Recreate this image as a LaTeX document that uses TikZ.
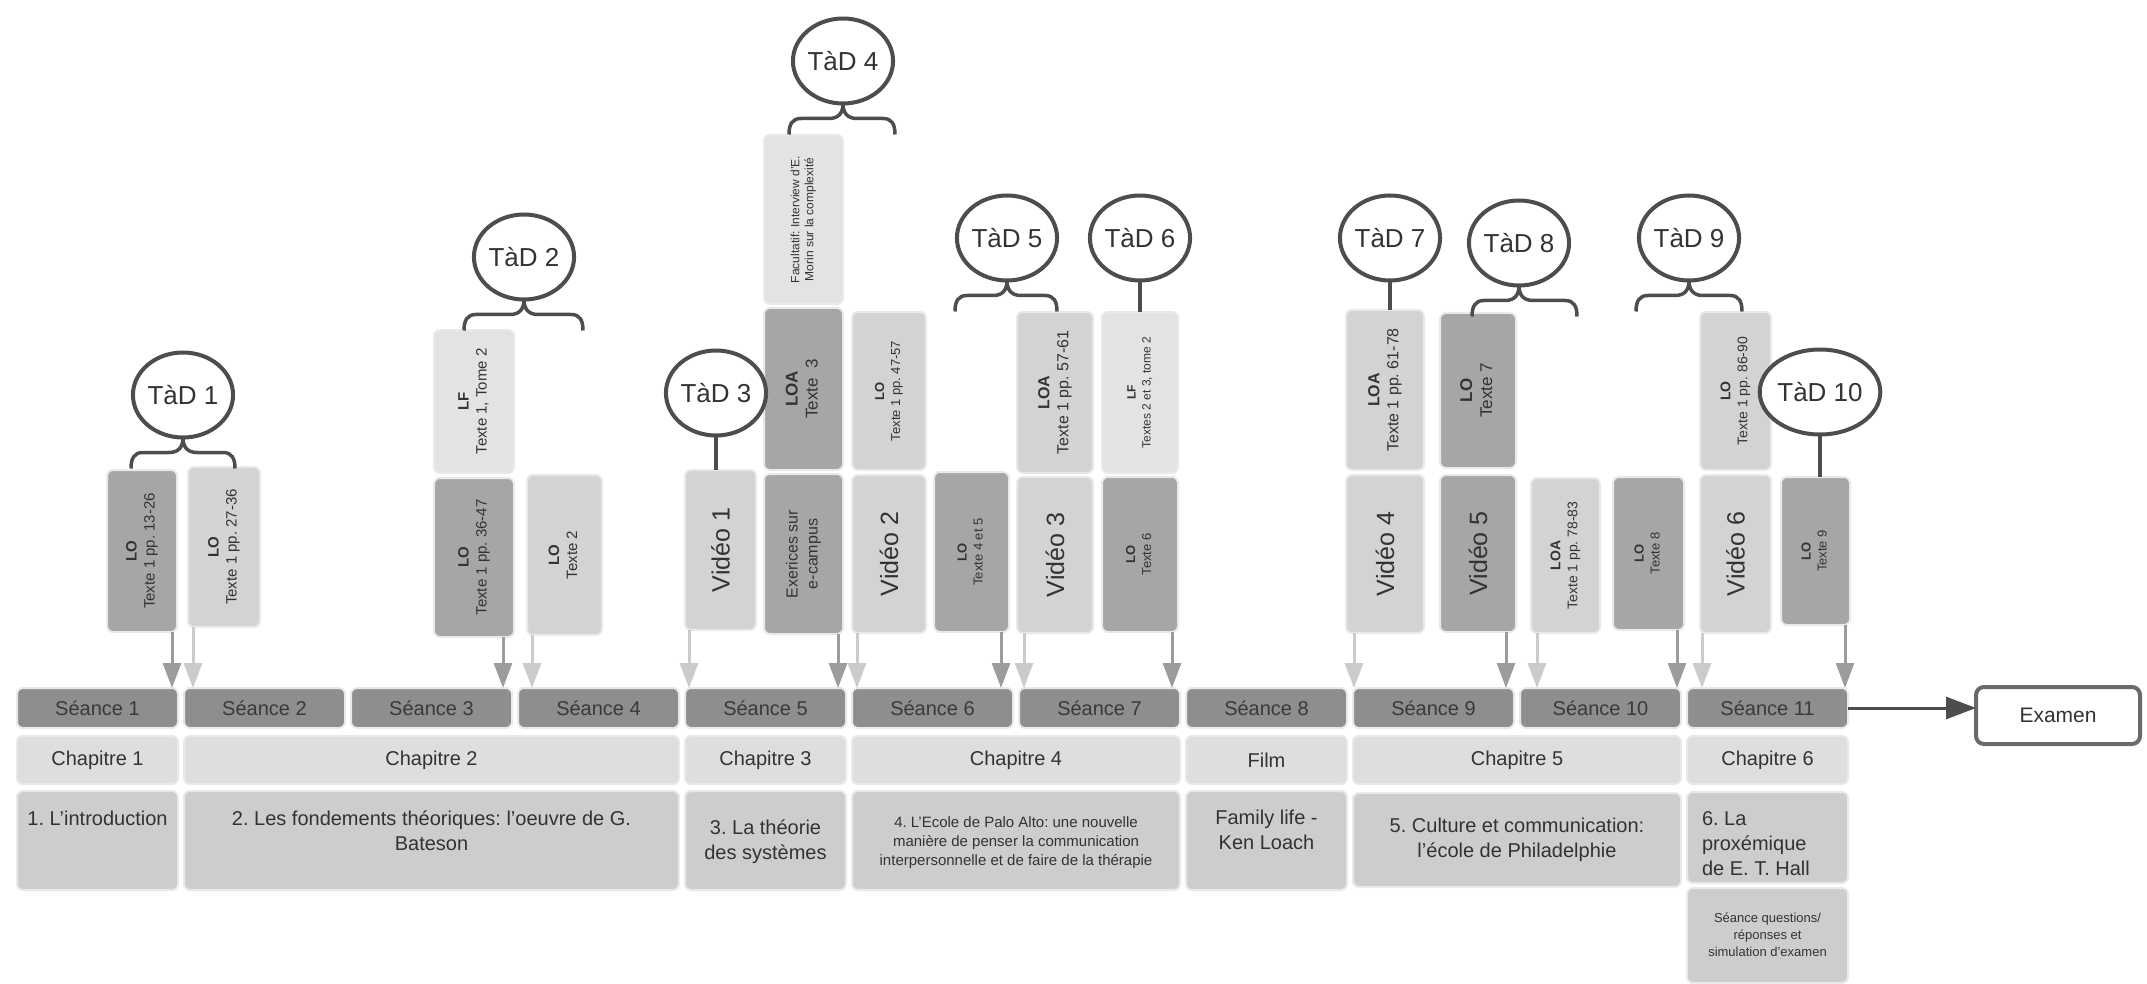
\documentclass[tikz,border=0pt]{standalone}
\usepackage{fontspec}
\setmainfont{Liberation Sans}
\usepackage{graphicx}
\usetikzlibrary{arrows.meta,shapes.geometric}
\frenchspacing

\definecolor{seac}{HTML}{8E8E8E}
\definecolor{seat}{HTML}{3A3A3A}
\definecolor{dkc}{HTML}{A6A6A6}
\definecolor{ltc}{HTML}{D3D3D3}
\definecolor{xlc}{HTML}{E3E3E3}
\definecolor{chpc}{HTML}{DEDEDE}
\definecolor{dscc}{HTML}{CDCDCD}
\definecolor{haloc}{HTML}{E9E9E9}
\definecolor{txtc}{HTML}{333333}
\definecolor{lnc}{HTML}{4D4D4D}
\definecolor{adc}{HTML}{9C9C9C}
\definecolor{alc}{HTML}{CBCBCB}
\definecolor{exc}{HTML}{6A6A6A}

\newcommand\bx[7]{\node[#6,minimum width={#4-#2},minimum height={#5-#3}] (#1) at ({(#2+#4)/2},{(#3+#5)/2}) {#7};}
\newcommand\vt[4]{\rotatebox{90}{\fontsize{#1}{#2}\selectfont\begin{tabular}{@{}c@{}}\textbf{#3}\\#4\end{tabular}}}
\newcommand\vtwo[4]{\rotatebox{90}{\fontsize{#1}{#2}\selectfont\begin{tabular}{@{}c@{}}#3\\#4\end{tabular}}}
\newcommand\vone[2]{\rotatebox{90}{\fontsize{#1}{#1}\selectfont #2}}
\newcommand\dtx[7]{\parbox[c][#1pt][t]{#2pt}{\fontsize{#4}{#5}\selectfont#6\vspace*{#3pt}\strut#7}}
\newcommand\tbr[5]{%
\draw[brc] (#1.south) .. controls (#2,{#3+9}) and ({#2-4},{#3+15}) .. ({#2-14},{#3+15}) -- ({#4+12},{#3+15}) .. controls ({#4+3},{#3+15}) and (#4,{#3+21}) .. (#4,{#3+31});
\draw[brc] (#1.south) .. controls (#2,{#3+9}) and ({#2+4},{#3+15}) .. ({#2+14},{#3+15}) -- ({#5-12},{#3+15}) .. controls ({#5-3},{#3+15}) and (#5,{#3+21}) .. (#5,{#3+31});}

\tikzset{
 bxs/.style={rounded corners=6pt, draw=haloc, line width=2pt, inner sep=0pt, outer sep=0pt, text=txtc},
 seab/.style={bxs, fill=seac, font=\fontsize{20}{24}\selectfont, text=seat},
 chpb/.style={bxs, fill=chpc, font=\fontsize{20}{24}\selectfont},
 dscb/.style={bxs, fill=dscc},
 dkb/.style={bxs, fill=dkc},
 ltb/.style={bxs, fill=ltc},
 xlb/.style={bxs, fill=xlc},
 tad/.style={ellipse, draw=lnc, line width=4pt, fill=white, minimum width=100pt, minimum height=85pt, inner sep=0pt, outer sep=0pt, font=\fontsize{26}{30}\selectfont, text=txtc},
 brc/.style={draw=lnc, line width=3.5pt},
 ad/.style={draw=adc, line width=3pt, -{Triangle[length=25pt,width=18pt]}},
 al/.style={draw=alc, line width=3pt, -{Triangle[length=25pt,width=18pt]}},
 exs/.style={rounded corners=8pt, draw=exc, line width=4pt, fill=white, inner sep=0pt, outer sep=0pt, font=\fontsize{21}{24}\selectfont, text=txtc},
 exa/.style={draw=lnc, line width=3pt, -{Triangle[length=30pt,width=22pt]}},
}

\begin{document}
\begin{tikzpicture}[x=1pt,y=-1pt]
\useasboundingbox[fill=white] (0,0) rectangle (2147,984);

% Seances
\bx{s1}{17}{688}{178}{728}{seab}{Séance 1}
\bx{s2}{184}{688}{345}{728}{seab}{Séance 2}
\bx{s3}{351}{688}{512}{728}{seab}{Séance 3}
\bx{s4}{518}{688}{679}{728}{seab}{Séance 4}
\bx{s5}{685}{688}{846}{728}{seab}{Séance 5}
\bx{s6}{852}{688}{1013}{728}{seab}{Séance 6}
\bx{s7}{1019}{688}{1180}{728}{seab}{Séance 7}
\bx{s8}{1186}{688}{1347}{728}{seab}{Séance 8}
\bx{s9}{1353}{688}{1514}{728}{seab}{Séance 9}
\bx{s10}{1520}{688}{1681}{728}{seab}{Séance 10}
\bx{s11}{1687}{688}{1848}{728}{seab}{Séance 11}

% Chapitres
\bx{c1}{17}{736}{178}{784}{chpb}{Chapitre 1}
\bx{c2}{184}{736}{679}{784}{chpb}{Chapitre 2}
\bx{c3}{685}{736}{846}{784}{chpb}{Chapitre 3}
\bx{c4}{852}{736}{1180}{784}{chpb}{Chapitre 4}
\bx{c5}{1186}{736}{1347}{784}{chpb}{Film}
\bx{c6}{1353}{736}{1681}{784}{chpb}{Chapitre 5}
\bx{c7}{1687}{736}{1848}{784}{chpb}{Chapitre 6}

% Descriptions
\bx{d1}{17}{791}{178}{890}{dscb}{\dtx{99}{161}{16.5}{20}{25}{\centering}{1. L'introduction}}
\bx{d2}{184}{791}{679}{890}{dscb}{\dtx{99}{495}{16.5}{20}{25}{\centering}{2. Les fondements théoriques: l'oeuvre de G.\\Bateson}}
\bx{d3}{685}{791}{846}{890}{dscb}{\dtx{99}{161}{25.5}{20}{25}{\centering}{3. La théorie\\des systèmes}}
\bx{d4}{852}{791}{1180}{890}{dscb}{\dtx{99}{328}{22.7}{15}{19}{\centering}{4. L'Ecole de Palo Alto: une nouvelle\\manière de penser la communication\\interpersonnelle et de faire de la thérapie}}
\bx{d5}{1186}{791}{1347}{890}{dscb}{\dtx{99}{161}{15.5}{20}{25}{\centering}{Family life -\\Ken Loach}}
\bx{d6}{1353}{793}{1681}{887}{dscb}{\dtx{94}{328}{21.5}{20}{25}{\centering}{5. Culture et communication:\\l'école de Philadelphie}}
\bx{d7}{1687}{792}{1848}{883}{dscb}{\dtx{91}{161}{15.5}{20}{25}{\raggedright\leftskip=15pt\relax}{6. La\\proxémique\\de E. T. Hall}}
\bx{d8}{1687}{888}{1848}{983}{dscb}{\dtx{95}{161}{23}{13}{17}{\centering}{Séance questions/\\réponses et\\simulation d'examen}}

% Examen
\bx{ex}{1976}{687}{2140}{744}{exs}{Examen}
\draw[exa] (s11.east) -- (s11.east -| ex.west);

% Resource boxes
\bx{r1}{107}{470}{177}{632}{dkb}{\vt{15}{18}{LO}{Texte 1 pp. 13-26}}
\bx{r2}{188}{467}{260}{627}{ltb}{\vt{15}{18}{LO}{Texte 1 pp. 27-36}}
\bx{r3}{434}{330}{514}{473}{xlb}{\vt{15}{18}{LF}{Texte 1, Tome 2}}
\bx{r4}{434}{478}{514}{637}{dkb}{\vt{15}{18}{LO}{Texte 1 pp. 36-47}}
\bx{r5}{527}{475}{602}{635}{ltb}{\vt{15}{18}{LO}{Texte 2}}
\bx{v1}{685}{470}{756}{630}{ltb}{\vone{25}{Vidéo 1}}
\bx{r7}{764}{135}{843}{304}{xlb}{\vtwo{12}{14}{Facultatif: Interview d'E.}{Morin sur la complexité}}
\bx{r8}{764}{308}{843}{470}{dkb}{\vt{17}{20}{LOA}{Texte\ \ 3}}
\bx{r9}{764}{474}{843}{634}{dkb}{\vtwo{16}{20}{Exerices sur}{e-campus}}
\bx{r10}{852}{312}{926}{470}{ltb}{\vt{13}{16}{LO}{Texte 1 pp. 47-57}}
\bx{v2}{852}{475}{926}{633}{ltb}{\vone{25}{Vidéo 2}}
\bx{r12}{934}{472}{1009}{632}{dkb}{\vt{13}{16}{LO}{Texte 4 et 5}}
\bx{r13}{1017}{312}{1093}{473}{ltb}{\vt{16}{19}{LOA}{Texte 1 pp. 57-61}}
\bx{v3}{1017}{477}{1093}{633}{ltb}{\vone{25}{Vidéo 3}}
\bx{r15}{1102}{312}{1178}{473}{xlb}{\vt{12}{15}{LF}{Textes 2 et 3, tome 2}}
\bx{r16}{1102}{477}{1178}{632}{dkb}{\vt{13}{16}{LO}{Texte 6}}
\bx{r17}{1346}{310}{1424}{470}{ltb}{\vt{16}{19}{LOA}{Texte 1 pp. 61-78}}
\bx{v4}{1346}{475}{1424}{633}{ltb}{\vone{25}{Vidéo 4}}
\bx{r19}{1440}{313}{1516}{468}{dkb}{\vt{17}{20}{LO}{Texte 7}}
\bx{v5}{1440}{475}{1516}{632}{dkb}{\vone{25}{Vidéo 5}}
\bx{r21}{1531}{478}{1600}{633}{ltb}{\vt{14}{17}{LOA}{Texte 1 pp. 78-83}}
\bx{r22}{1613}{477}{1684}{630}{dkb}{\vt{13}{16}{LO}{Texte 8}}
\bx{r23}{1700}{312}{1771}{470}{ltb}{\vt{14}{17}{LO}{Texte 1 pp. 86-90}}
\bx{v6}{1700}{475}{1771}{633}{ltb}{\vone{25}{Vidéo 6}}
\bx{r25}{1781}{477}{1850}{625}{dkb}{\vt{13}{16}{LO}{Texte 9}}

% TaD circles
\node[tad] (t1) at (183,395) {TàD 1};
\node[tad] (t2) at (524,257) {TàD 2};
\node[tad] (t3) at (716,393) {TàD 3};
\node[tad] (t4) at (843,61) {TàD 4};
\node[tad] (t5) at (1007,238) {TàD 5};
\node[tad] (t6) at (1140,238) {TàD 6};
\node[tad] (t7) at (1390,238) {TàD 7};
\node[tad] (t8) at (1519,243) {TàD 8};
\node[tad] (t9) at (1689,238) {TàD 9};
\node[tad] (t10) at (1820,392) {TàD 10};

% braces and lines
\tbr{t1}{183}{437.5}{131}{235}
\tbr{t2}{524}{299.5}{464}{583}
\tbr{t4}{843}{103.5}{789}{895}
\tbr{t5}{1007}{280.5}{955}{1057}
\tbr{t8}{1519}{285.5}{1472}{1577}
\tbr{t9}{1689}{280.5}{1636}{1742}
\draw[brc] (t3.south) -- (t3.south |- v1.north);
\draw[brc] (t6.south) -- (t6.south |- r15.north);
\draw[brc] (t7.south) -- (t7.south |- r17.north);
\draw[brc] (t10.south) -- (t10.south |- r25.north);

% arrows to seances
\coordinate (a1) at (172,0);
\coordinate (a2) at (193,0);
\coordinate (a3) at (503,0);
\coordinate (a4) at (532,0);
\coordinate (a5) at (689,0);
\coordinate (a6) at (838,0);
\coordinate (a7) at (857,0);
\coordinate (a8) at (1001,0);
\coordinate (a9) at (1024,0);
\coordinate (a10) at (1172,0);
\coordinate (a11) at (1354,0);
\coordinate (a12) at (1506,0);
\coordinate (a13) at (1537,0);
\coordinate (a14) at (1677,0);
\coordinate (a15) at (1702,0);
\coordinate (a16) at (1845,0);
\draw[ad] (r1.south -| a1) -- (s1.north -| a1);
\draw[al] (r2.south -| a2) -- (s2.north -| a2);
\draw[ad] (r4.south -| a3) -- (s3.north -| a3);
\draw[al] (r5.south -| a4) -- (s4.north -| a4);
\draw[al] (v1.south -| a5) -- (s5.north -| a5);
\draw[ad] (r9.south -| a6) -- (s5.north -| a6);
\draw[al] (v2.south -| a7) -- (s6.north -| a7);
\draw[ad] (r12.south -| a8) -- (s6.north -| a8);
\draw[al] (v3.south -| a9) -- (s7.north -| a9);
\draw[ad] (r16.south -| a10) -- (s7.north -| a10);
\draw[al] (v4.south -| a11) -- (s9.north -| a11);
\draw[ad] (v5.south -| a12) -- (s9.north -| a12);
\draw[al] (r21.south -| a13) -- (s10.north -| a13);
\draw[ad] (r22.south -| a14) -- (s10.north -| a14);
\draw[al] (v6.south -| a15) -- (s11.north -| a15);
\draw[ad] (r25.south -| a16) -- (s11.north -| a16);
\end{tikzpicture}
\end{document}
